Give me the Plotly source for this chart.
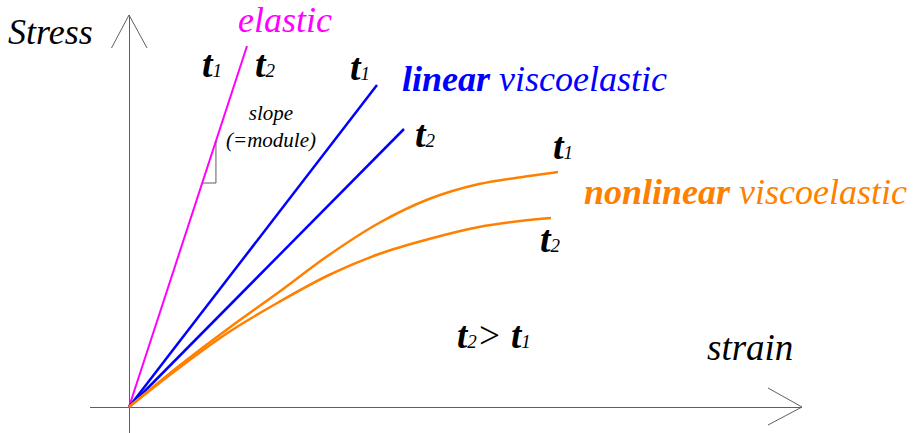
import plotly.graph_objects as go

# values (strain, stress), 1 unit = 100 px
elastic_strain = [0, 1.18]
elastic_stress = [0, 3.61]

linear_t1_strain = [0, 2.48]
linear_t1_stress = [0, 3.22]
linear_t2_strain = [0, 2.75]
linear_t2_stress = [0, 2.78]

nonlinear_t1_strain = [0, 0.5, 1.0, 1.5, 2.0, 2.5, 3.0, 3.5, 4.0, 4.29]
nonlinear_t1_stress = [0, 0.41, 0.79, 1.15, 1.52, 1.84, 2.08, 2.23, 2.31, 2.35]
nonlinear_t2_strain = [0, 0.5, 1.0, 1.5, 2.0, 2.5, 3.0, 3.5, 4.0, 4.22]
nonlinear_t2_stress = [0, 0.39, 0.75, 1.05, 1.32, 1.53, 1.68, 1.80, 1.87, 1.89]

# little slope triangle sits on the elastic line between these stresses
slope_stress = [2.24, 2.66]

strain_range = [-0.39, 6.73]
stress_range = [-0.26, 3.92]

MAGENTA = "#ff00ff"
BLUE = "#0000ff"
ORANGE = "#ff8000"
AXIS = "#5f5f5f"
FONT = "Liberation Serif"

W, H = 918, 433
L, R, T, B = 90, 116, 15, 0

fig = go.Figure()


def line(x, y, color, width, shape="linear"):
    fig.add_trace(go.Scatter(x=x, y=y, mode="lines", hoverinfo="skip",
                             line=dict(color=color, width=width, shape=shape)))


line(elastic_strain, elastic_stress, MAGENTA, 2)
line(linear_t1_strain, linear_t1_stress, BLUE, 2.5)
line(linear_t2_strain, linear_t2_stress, BLUE, 2.5)
line(nonlinear_t1_strain, nonlinear_t1_stress, ORANGE, 2.5, "spline")
line(nonlinear_t2_strain, nonlinear_t2_stress, ORANGE, 2.5, "spline")

# slope triangle
k = elastic_stress[1] / elastic_strain[1]
tri_x = [slope_stress[0] / k, slope_stress[1] / k, slope_stress[1] / k]
tri_y = [slope_stress[0], slope_stress[1], slope_stress[0]]
line([tri_x[1], tri_x[2], tri_x[0]], [tri_y[1], tri_y[2], tri_y[0]], AXIS, 1)

# open arrow heads on the axes
xt, yt = strain_range[1], stress_range[1]
line([-0.175, 0, 0.18], [yt - 0.33, yt, yt - 0.33], AXIS, 1)
line([xt - 0.34, xt, xt - 0.34], [0.19, 0, -0.18], AXIS, 1)


def label(text, x, y, size, color="black"):
    # x = left edge in px, y = baseline in px
    return dict(text=text, xref="paper", yref="paper",
                x=(x - L) / (W - L - R),
                y=(H - B - (y - 0.34 * size)) / (H - T - B),
                xanchor="left", yanchor="middle", showarrow=False,
                font=dict(family=FONT, size=size, color=color))


SUB = "<span style='font-size:19px'><i>%s</i></span>"


def tlab(n, x, y):
    return label("<b><i>t</i></b>" + SUB % n, x, y, 38)


annotations = [
    label("<i>Stress</i>", 6, 44, 36),
    label("<i>elastic</i>", 236, 32, 36, MAGENTA),
    label("<b><i>linear</i></b><i> viscoelastic</i>", 400, 91, 36, BLUE),
    label("<b><i>nonlinear</i></b><i> viscoelastic</i>", 582, 204, 36, ORANGE),
    tlab(1, 200, 77),
    tlab(2, 253, 77),
    tlab(1, 348, 80),
    tlab(2, 413, 147),
    tlab(1, 551, 159),
    tlab(2, 538, 252),
    label("<b><i>t</i></b>" + SUB % 2 + "<i>&gt; </i><b><i>t</i></b>" + SUB % 1, 455, 348, 37),
    label("<i>strain</i>", 705, 360, 37),
    dict(text="<i>slope</i><br><i>(=module)</i>", xref="paper", yref="paper",
         x=(271 - L) / (W - L - R), y=(H - 135 + 8) / (H - T - B),
         xanchor="center", yanchor="middle", showarrow=False,
         font=dict(family=FONT, size=21, color="black")),
]

fig.update_layout(
    width=W, height=H,
    margin=dict(l=L, r=R, t=T, b=B),
    paper_bgcolor="white", plot_bgcolor="white",
    showlegend=False,
    annotations=annotations,
    xaxis=dict(range=strain_range, showgrid=False, showticklabels=False, ticks="",
               zeroline=True, zerolinecolor=AXIS, zerolinewidth=1, fixedrange=True),
    yaxis=dict(range=stress_range, showgrid=False, showticklabels=False, ticks="",
               zeroline=True, zerolinecolor=AXIS, zerolinewidth=1, fixedrange=True),
)

fig.write_html("out.html", config={"displayModeBar": False},
               post_script="document.body.style.margin='0';")
